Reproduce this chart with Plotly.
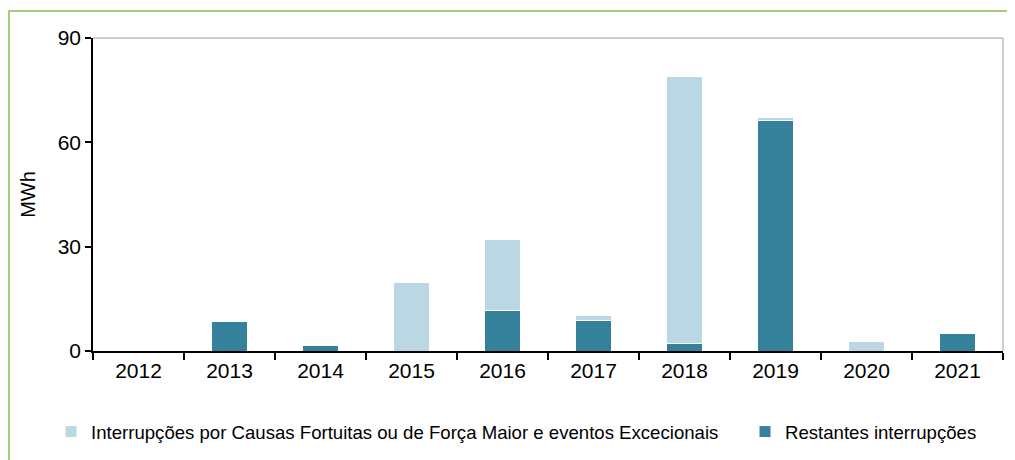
import plotly.graph_objects as go

# Energia não fornecida (MWh) por ano
years = ['2012', '2013', '2014', '2015', '2016', '2017', '2018', '2019', '2020', '2021']
restantes = [0, 8.5, 1.7, 0, 11.6, 8.9, 2.2, 66.4, 0, 4.9]
fortuitas = [0, 0, 0, 19.6, 20.6, 1.3, 76.6, 0.6, 2.6, 0]

name_fortuitas = 'Interrupções por Causas Fortuitas ou de Força Maior e eventos Excecionais'
name_restantes = 'Restantes interrupções'

dark = '#35809A'
light = '#BAD7E3'
font_family = 'Liberation Sans, Arial, sans-serif'

fig = go.Figure()
fig.add_trace(go.Bar(
    x=years, y=restantes, name=name_restantes,
    marker=dict(color=dark, line=dict(color='white', width=1)),
    legend='legend2',
))
fig.add_trace(go.Bar(
    x=years, y=fortuitas, name=name_fortuitas,
    marker=dict(color=light, line=dict(color='white', width=1)),
    legend='legend',
))

# page body has an 8px margin, so the figure is drawn from (8, 8)
OFF = 8
W, H = 1015 - OFF, 460 - OFF
# plot area in page pixels: left 93, right 1003, top 38, bottom 351
L, R, T, B = 93, 1003, 38, 351


def px_x(px):
    return (px - L) / (R - L)


def px_y(py):
    return (B - py) / (B - T)


shapes = [
    # gray frame top and right
    dict(type='line', xref='paper', yref='paper', x0=0, x1=1, y0=1, y1=1,
         line=dict(color='#BDBDBD', width=1.5)),
    dict(type='line', xref='paper', yref='paper', x0=1, x1=1, y0=0, y1=1,
         line=dict(color='#BDBDBD', width=1.5)),
    # green outer border (left and top)
    dict(type='line', xref='paper', yref='paper', x0=px_x(9), x1=px_x(9),
         y0=px_y(11), y1=px_y(470), line=dict(color='#A8CC7A', width=2)),
    dict(type='line', xref='paper', yref='paper', x0=px_x(8), x1=px_x(1030),
         y0=px_y(11), y1=px_y(11), line=dict(color='#A8CC7A', width=2)),
]

legend_common = dict(
    orientation='h',
    xanchor='left',
    y=px_y(432), yanchor='middle',
    font=dict(size=18.6),
    itemclick=False,
    bgcolor='rgba(0,0,0,0)',
)

fig.update_layout(
    barmode='stack',
    bargap=0.6,
    width=W, height=H,
    margin=dict(l=L - OFF, r=W - (R - OFF), t=T - OFF, b=H - (B - OFF), autoexpand=False),
    paper_bgcolor='white',
    plot_bgcolor='white',
    font=dict(family=font_family, size=21, color='#000000'),
    showlegend=True,
    legend=dict(x=px_x(51), **legend_common),
    legend2=dict(x=px_x(745), **legend_common),
    shapes=shapes,
)

fig.update_xaxes(
    type='category',
    showline=True, linecolor='black', linewidth=1.5,
    ticks='outside', tickson='boundaries', ticklen=7, tickcolor='black', tickwidth=1.5,
    showgrid=False,
    tickfont=dict(size=21),
)
fig.update_yaxes(
    range=[0, 90],
    tickvals=[0, 30, 60, 90],
    showline=True, linecolor='black', linewidth=1.5,
    ticks='outside', ticklen=6, tickcolor='black', tickwidth=1.5,
    showgrid=False, zeroline=False,
    tickfont=dict(size=21),
    title=dict(text='MWh', font=dict(size=20), standoff=17),
)

fig.write_html('out.html')
